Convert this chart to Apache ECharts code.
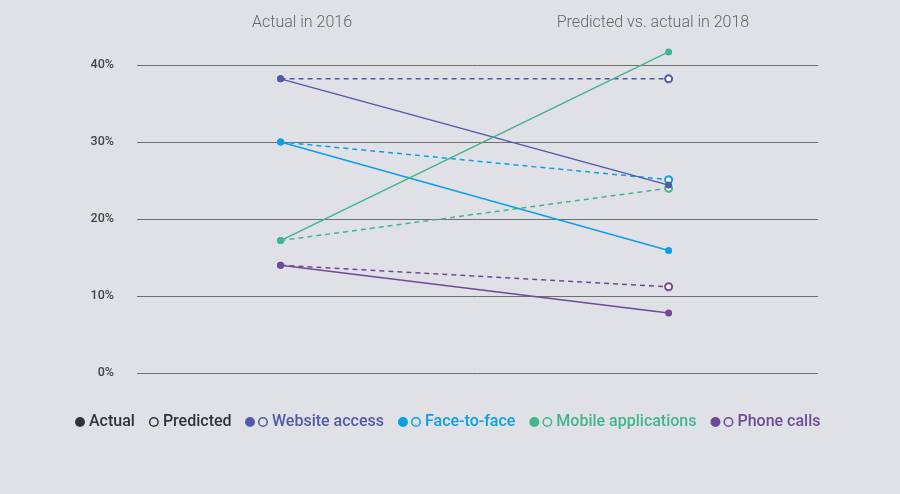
<!DOCTYPE html>
<html>
<head>
<meta charset="utf-8">
<script src="https://cdn.jsdelivr.net/npm/echarts@6/dist/echarts.min.js"></script>
<style>
html, body {margin:0; padding:0; background:#e0e1e6;}
#chart {width:900px; height:494px;}
</style>
</head>
<body>
<div id="chart"></div>
<script>
var years = [2016, 2018];
var columnTitles = ['Actual in 2016', 'Predicted vs. actual in 2018'];
var channels = ['Website access', 'Face-to-face', 'Mobile applications', 'Phone calls'];
var colors = ['#5159a9', '#0ba0e3', '#43b58d', '#6f4a97'];
// 2016 actual, 2018 actual
var actualVals = [[38.2, 24.4], [30.0, 15.9], [17.2, 41.7], [14.0, 7.8]];
// 2016 actual, 2018 predicted
var predictedVals = [[38.2, 38.2], [30.0, 25.1], [17.2, 24.0], [14.0, 11.2]];
var yTicks = [0, 10, 20, 30, 40];

var dotPath = 'path://M0,5A5,5 0 1,1 10,5A5,5 0 1,1 0,5Z';
var ringPath = 'path://M0,5A5,5 0 1,1 10,5A5,5 0 1,1 0,5ZM1.5,5A3.5,3.5 0 1,0 8.5,5A3.5,3.5 0 1,0 1.5,5Z';
var pairPath = 'path://M0,5A5,5 0 1,1 10,5A5,5 0 1,1 0,5ZM13,5A5,5 0 1,1 23,5A5,5 0 1,1 13,5ZM14.5,5A3.5,3.5 0 1,0 21.5,5A3.5,3.5 0 1,0 14.5,5Z';

var myCharts = echarts.init(document.getElementById('chart'));

var series = [];
var keyData = [
    {name: 'Actual', icon: dotPath, itemStyle: {color: '#333'}, textStyle: {color: '#333'}},
    {name: 'Predicted', icon: ringPath, itemStyle: {color: '#333'}, textStyle: {color: '#333'}}
];
var channelData = [];
series.push({name: 'Actual', type: 'line', data: [], itemStyle: {color: '#333'}});
series.push({name: 'Predicted', type: 'line', data: [], itemStyle: {color: '#333'}});

for (var i = 0; i < channels.length; i++) {
    //预测值 虚线
    series.push({
        name: channels[i],
        type: 'line',
        z: 2,
        clip: false,
        data: [
            {value: [years[0], predictedVals[i][0]], symbol: 'circle', symbolSize: 7},
            {value: [years[1], predictedVals[i][1]], symbol: 'emptyCircle', symbolSize: 7}
        ],
        lineStyle: {color: colors[i], width: 1.5, type: [5, 4]},
        itemStyle: {color: colors[i], borderWidth: 1.5},
        animation: false
    });
    //实际值 实线
    series.push({
        name: channels[i],
        type: 'line',
        z: 3,
        clip: false,
        symbol: 'circle',
        symbolSize: 7,
        data: [[years[0], actualVals[i][0]], [years[1], actualVals[i][1]]],
        lineStyle: {color: colors[i], width: 1.5},
        itemStyle: {color: colors[i]},
        animation: false
    });
    channelData.push({name: channels[i], icon: pairPath, itemStyle: {color: colors[i]}, textStyle: {color: colors[i]}});
}

var legendText = {fontFamily: 'Roboto', fontWeight: 500, fontSize: 16, padding: [0, 0, 0, -1]};

var option = {
    backgroundColor: '#e0e1e6',
    title: [
        {text: columnTitles[0], left: 297, top: 10, textAlign: 'center',
         textStyle: {fontFamily: 'Roboto', fontWeight: 300, fontSize: 16, color: '#666'}},
        {text: columnTitles[1], left: 648, top: 10, textAlign: 'center',
         textStyle: {fontFamily: 'Roboto', fontWeight: 300, fontSize: 16, color: '#666'}}
    ],
    legend: [{
        data: keyData,
        left: 70,
        top: 409,
        itemGap: 14,
        itemWidth: 10,
        itemHeight: 10,
        textStyle: legendText,
        selectedMode: false
    }, {
        data: channelData,
        left: 240,
        top: 409,
        itemGap: 14,
        itemWidth: 23,
        itemHeight: 10,
        textStyle: legendText,
        selectedMode: false
    }],
    grid: {left: 137, right: 82, top: 65, bottom: 121, containLabel: false},
    xAxis: {
        type: 'value',
        min: 2015.26,
        max: 2018.77,
        show: false
    },
    yAxis: {
        type: 'value',
        min: yTicks[0],
        max: yTicks[yTicks.length - 1],
        interval: 10,
        axisLine: {show: false},
        axisTick: {show: false},
        axisLabel: {
            formatter: '{value}%',
            margin: 23,
            fontFamily: 'Roboto',
            fontWeight: 500,
            fontSize: 12.5,
            color: '#444'
        },
        splitLine: {lineStyle: {color: '#6f6f6f', width: 1}}
    },
    series: series
};

myCharts.setOption(option);
</script>
</body>
</html>
